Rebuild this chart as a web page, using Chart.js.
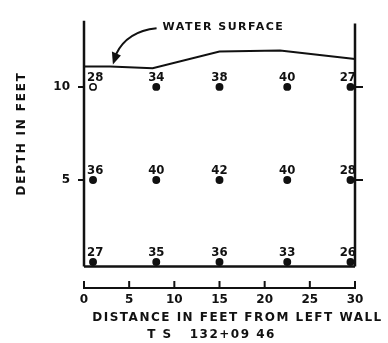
<!DOCTYPE html>
<html>
<head>
<meta charset="utf-8">
<script src="https://cdn.jsdelivr.net/npm/chart.js@4"></script>
<style>
    html, body { margin: 0; padding: 0; background: #fff; }
    #wrap { width: 388px; height: 343px; }
</style>
</head>
<body>
<div id="wrap"><canvas id="myChart"></canvas></div>
<script>
// sounding verticals (ft from left wall) and measuring depths (ft above bed)
const distances = [1, 8, 15, 22.5, 29.5]
const depths = [10, 5, 0.6]

// velocity readings per depth row
const velocityTop = [28, 34, 38, 40, 27]
const velocityMid = [36, 40, 42, 40, 28]
const velocityBottom = [27, 35, 36, 33, 26]

// water surface profile
const surfaceDistance = [0, 2.9, 7.6, 15, 21.7, 30]
const surfaceDepth = [11.1, 11.1, 11.0, 11.9, 11.95, 11.5]

// channel section
const bedDepth = 0.35
const leftWallTop = 13.55
const rightWallTop = 13.4

const xTickValues = [0, 5, 10, 15, 20, 25, 30]
const yTickValues = [5, 10]

const INK = '#111'
const BOLD = "bold 11px 'DejaVu Sans', sans-serif"
const LABEL_FONT = "bold 13px 'DejaVu Sans Condensed', 'Liberation Sans Narrow', 'DejaVu Sans', sans-serif"

const toPoints = (xs, ys) => xs.map((x, i) => ({ x: x, y: Array.isArray(ys) ? ys[i] : ys }))

const lineSet = (data, width) => ({
    type: 'line',
    data: data,
    borderColor: INK,
    borderWidth: width,
    pointRadius: 0,
    fill: false,
    tension: 0,
    clip: 6,
})

const dotSet = (row, hollowFirst) => ({
    type: 'scatter',
    data: toPoints(distances, depths[row]),
    pointRadius: 3.2,
    pointBorderWidth: 1.5,
    pointBorderColor: INK,
    pointBackgroundColor: (ctx) => (hollowFirst && ctx.dataIndex === 0) ? '#fff' : INK,
    clip: 6,
})

const rows = [velocityTop, velocityMid, velocityBottom]

// text, arrow and upward axis ticks
const sketchText = {
    id: 'sketchText',
    afterDatasetsDraw(chart) {
        const { ctx, chartArea, scales: { x, y } } = chart
        ctx.save()
        ctx.fillStyle = INK
        ctx.strokeStyle = INK

        // velocity values above each point
        ctx.font = LABEL_FONT
        ctx.textAlign = 'left'
        ctx.textBaseline = 'alphabetic'
        rows.forEach((row, r) => {
            row.forEach((v, i) => {
                const px = x.getPixelForValue(distances[i])
                const py = y.getPixelForValue(depths[r])
                const t = String(v)
                const w = ctx.measureText(t).width
                let left = px - w / 2
                left = Math.max(left, chartArea.left + 3)
                left = Math.min(left, chartArea.right - w + 1)
                ctx.fillText(t, left, py - 6)
            })
        })

        // ticks on the distance axis point up
        ctx.lineWidth = 2
        xTickValues.forEach((v) => {
            const px = x.getPixelForValue(v)
            ctx.beginPath()
            ctx.moveTo(px, chartArea.bottom)
            ctx.lineTo(px, chartArea.bottom - 7)
            ctx.stroke()
        })

        // water surface note
        ctx.font = BOLD
        ctx.letterSpacing = '1.5px'
        ctx.textBaseline = 'middle'
        const noteX = x.getPixelForValue(8.7)
        const noteY = y.getPixelForValue(13.2)
        ctx.fillText('WATER SURFACE', noteX, noteY)

        const tipX = x.getPixelForValue(3.2)
        const tipY = y.getPixelForValue(11.15)
        ctx.lineWidth = 2
        ctx.beginPath()
        ctx.moveTo(noteX - 6, noteY + 1)
        ctx.quadraticCurveTo(tipX + 14, noteY + 4, tipX + 3, tipY - 11)
        ctx.stroke()
        ctx.beginPath()
        ctx.moveTo(tipX, tipY - 1)
        ctx.lineTo(tipX - 1, tipY - 14)
        ctx.lineTo(tipX + 8, tipY - 10)
        ctx.closePath()
        ctx.fill()

        // axis titles
        ctx.font = "bold 12px 'DejaVu Sans', sans-serif"
        ctx.letterSpacing = '1.5px'
        ctx.textAlign = 'center'
        const midX = (chartArea.left + chartArea.right) / 2
        ctx.fillText('DISTANCE IN FEET FROM LEFT WALL', midX + 18, 318)
        ctx.fillText('T S   132+09 46', midX - 8, 335)

        ctx.save()
        ctx.translate(22, y.getPixelForValue(7.5))
        ctx.rotate(-Math.PI / 2)
        ctx.letterSpacing = '1.8px'
        ctx.font = "bold 12px 'DejaVu Sans', sans-serif"
        ctx.fillText('DEPTH IN FEET', 0, 0)
        ctx.restore()

        ctx.restore()
    }
}

const yScale = (pos, width, tickLen, showLabels) => ({
    type: 'linear',
    position: pos,
    min: -0.8,
    max: 13.85,
    afterBuildTicks: (s) => { s.ticks = yTickValues.map((v) => ({ value: v })) },
    afterFit: (s) => { s.width = width },
    ticks: { display: showLabels, color: INK, font: { family: "'DejaVu Sans', sans-serif", size: 12, weight: 'bold' }, padding: 8 },
    grid: { drawOnChartArea: false, drawTicks: true, tickLength: tickLen, color: INK, lineWidth: 2 },
    border: { display: false },
})

new Chart(document.getElementById('myChart').getContext('2d'), {
    type: 'scatter',
    data: {
        datasets: [
            lineSet(toPoints(surfaceDistance, surfaceDepth), 2),
            lineSet([{ x: 0, y: bedDepth }, { x: 0, y: leftWallTop }], 2.5),
            lineSet([{ x: 30, y: bedDepth }, { x: 30, y: rightWallTop }], 2.5),
            lineSet([{ x: 0, y: bedDepth }, { x: 30, y: bedDepth }], 2.5),
            dotSet(0, true),
            dotSet(1, false),
            dotSet(2, false),
        ]
    },
    options: {
        responsive: true,
        maintainAspectRatio: false,
        animation: false,
        layout: { padding: { top: 4, left: 0, right: 0, bottom: 0 } },
        plugins: { legend: { display: false }, tooltip: { enabled: false } },
        scales: {
            x: {
                type: 'linear',
                min: 0,
                max: 30,
                afterBuildTicks: (s) => { s.ticks = xTickValues.map((v) => ({ value: v })) },
                afterFit: (s) => { s.height = 55 },
                ticks: { color: INK, font: { family: "'DejaVu Sans', sans-serif", size: 12, weight: 'bold' }, padding: 5, maxRotation: 0 },
                grid: { drawOnChartArea: false, drawTicks: false },
                border: { display: true, color: INK, width: 2 },
            },
            y: yScale('left', 84, 6, true),
            y2: yScale('right', 33, 8, false),
        }
    },
    plugins: [sketchText]
})
</script>
</body>
</html>
